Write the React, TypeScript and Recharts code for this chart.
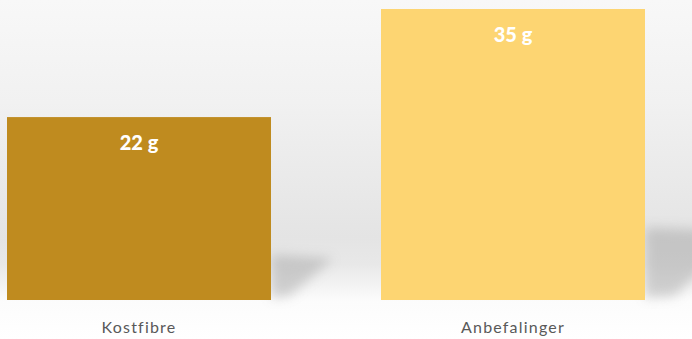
import React from 'react';
import { BarChart, Bar, XAxis, YAxis, LabelList } from 'recharts';

const categories = ['Kostfibre', 'Anbefalinger'];
const values = [22, 35];
const valueLabels = ['22 g', '35 g'];
const colors = ['#BF8B1F', '#FDD572'];

const data = categories.map((c, i) => ({ name: c, value: values[i], label: valueLabels[i], color: colors[i] }));

const ShadowBar = (props: any) => {
  const { x, y, width, height, payload } = props;
  const bottom = y + height;
  const right = x + width;
  const sh = height * 0.25;
  const sw = height * 0.34;
  const pts = `${right},${bottom - sh} ${right + sw},${bottom - sh + 4} ${right + sw * 0.3},${bottom - 4} ${right},${bottom - 2}`;
  return (
    <g>
      <polygon points={pts} fill="#9a9a9a" opacity={0.42} filter="url(#shblur)" />
      <rect x={x} y={y} width={width} height={height} fill={payload.color} />
    </g>
  );
};

export default function App() {
  return (
    <div
      style={{
        position: 'fixed',
        left: 0,
        top: 0,
        width: 692,
        height: 339,
        overflow: 'hidden',
        background:
          'linear-gradient(to bottom, #f8f8f8 0%, #f1f1f1 30%, #e4e4e4 70%, #e8e8e8 78%, #fcfcfc 89%, #ffffff 100%)',
      }}
    >
      <div style={{ position: 'absolute', left: -48, top: 0 }}>
        <BarChart width={748} height={339} data={data} margin={{ top: 9, right: 0, bottom: 0, left: 0 }}>
          <defs>
            <filter id="shblur" x="-50%" y="-50%" width="200%" height="200%">
              <feGaussianBlur stdDeviation="6" />
            </filter>
          </defs>
          <XAxis
            dataKey="name"
            height={39}
            axisLine={false}
            tickLine={false}
            tickMargin={16}
            tick={{
              fill: '#595959',
              fontSize: 16,
              fontFamily: 'Lato',
              style: { letterSpacing: 1.2, fontVariantLigatures: 'none' },
            }}
          />
          <YAxis hide domain={[0, 35]} />
          <Bar dataKey="value" barSize={264} shape={ShadowBar} isAnimationActive={false}>
            <LabelList
              dataKey="label"
              position="insideTop"
              offset={19}
              fill="#ffffff"
              style={{ fontSize: 20, fontWeight: 900, fontFamily: 'Lato' }}
            />
          </Bar>
        </BarChart>
      </div>
    </div>
  );
}
